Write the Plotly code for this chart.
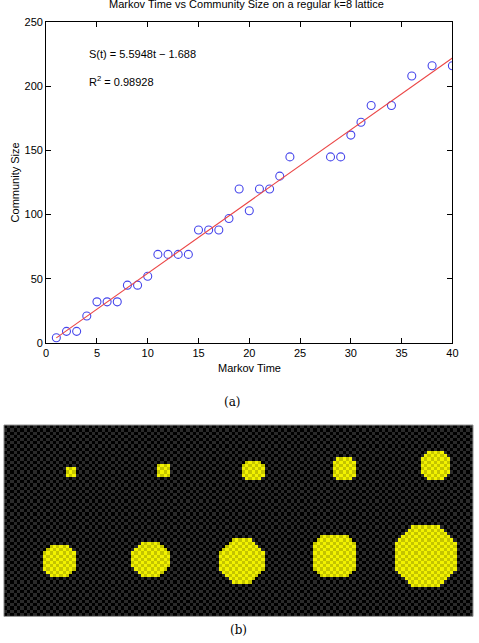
import numpy as np
import plotly.graph_objects as go

# ---- data (a): Markov time vs community size ----
markov_time = [1, 2, 3, 4, 5, 6, 7, 8, 9, 10, 11, 12, 13, 14, 15, 16, 17, 18, 19, 20,
               21, 22, 23, 24, 28, 29, 30, 31, 32, 34, 36, 38, 40]
community_size = [4, 9, 9, 21, 32, 32, 32, 45, 45, 52, 69, 69, 69, 69, 88, 88, 88, 97, 120, 103,
                  120, 120, 130, 145, 145, 145, 162, 172, 185, 185, 208, 216, 216]
fit_slope = 5.5948
fit_intercept = -1.688
fit_r2 = 0.98928
fit_t = [1, 40]

# ---- data (b): lattice image with communities ----
lattice_cols = 144
lattice_rows = 59
blob_cx = [20.5, 49, 76.5, 104.5, 132.5, 17, 45, 73, 101.5, 129.5]
blob_cy = [14.5, 14, 14, 13.5, 12.5, 42, 41.5, 42, 40.5, 40.5]
blob_diam = [3, 4, 6, 7.5, 8.5, 10, 11, 13, 13.5, 18.5]

fit_S = [fit_slope * t + fit_intercept for t in fit_t]

# build lattice image
jj, ii = np.meshgrid(np.arange(lattice_cols), np.arange(lattice_rows))
mask = np.zeros((lattice_rows, lattice_cols), dtype=bool)
for cx, cy, d in zip(blob_cx, blob_cy, blob_diam):
    r = d / 2.0
    dx = np.abs(jj + 0.5 - cx)
    dy = np.abs(ii + 0.5 - cy)
    mask |= (dx <= r + 1e-6) & (dy <= r + 1e-6) & (dx + dy <= r * 1.5 + 1e-6)
checker = (ii + jj) % 2
z = checker + 2 * mask.astype(int)

W, H = 479, 643

def px(x):
    return x / W

def py(y):
    return 1 - y / H

fig = go.Figure()

fig.add_trace(go.Scatter(
    x=markov_time, y=community_size, mode="markers",
    marker=dict(symbol="circle-open", size=8, color="rgb(70,70,235)", line=dict(width=1.1)),
    xaxis="x", yaxis="y", showlegend=False))
fig.add_trace(go.Scatter(
    x=fit_t, y=fit_S, mode="lines",
    line=dict(color="rgb(235,70,70)", width=1.1),
    xaxis="x", yaxis="y", showlegend=False))

fig.add_trace(go.Heatmap(
    z=z, zmin=0, zmax=3, showscale=False,
    colorscale=[[0, "#000000"], [0.1667, "#000000"], [0.1667, "#2a2a2a"], [0.5, "#2a2a2a"],
                [0.5, "#f2f200"], [0.8333, "#f2f200"], [0.8333, "#c4c400"], [1, "#c4c400"]],
    xaxis="x2", yaxis="y2", hoverinfo="skip"))

axis_font = dict(family="Liberation Sans, Arial, sans-serif", size=11, color="black")

fig.update_layout(
    width=W, height=H, margin=dict(l=0, r=0, t=0, b=0),
    paper_bgcolor="white", plot_bgcolor="white",
    xaxis=dict(domain=[px(44), px(458)], anchor="y", range=[0, 40], dtick=5, tick0=0,
               showline=True, linecolor="black", linewidth=1, mirror="ticks",
               ticks="inside", ticklen=5, tickcolor="black", showgrid=False, zeroline=False,
               tickfont=axis_font),
    yaxis=dict(domain=[py(343.3), py(16.5)], anchor="x", range=[0, 250], dtick=50, tick0=0,
               showline=True, linecolor="black", linewidth=1, mirror="ticks",
               ticks="inside", ticklen=5, tickcolor="black", showgrid=False, zeroline=False,
               tickfont=axis_font),
    xaxis2=dict(domain=[px(1), 1], anchor="y2", range=[-0.5, lattice_cols - 0.5],
                showticklabels=False, ticks="", showgrid=False, zeroline=False,
                showline=False),
    yaxis2=dict(domain=[py(622), py(427)], anchor="x2", range=[lattice_rows - 0.5, -0.5],
                showticklabels=False, ticks="", showgrid=False, zeroline=False,
                showline=False),
    shapes=[dict(type="rect", xref="paper", yref="paper", x0=px(1), x1=1, y0=py(622), y1=py(427),
                 line=dict(color="#909090", width=1), fillcolor="rgba(0,0,0,0)")],
)

ann_font = dict(family="Liberation Sans, Arial, sans-serif", size=11, color="black")
serif_font = dict(family="DejaVu Serif, Liberation Serif, serif", size=12, color="black")
fig.add_annotation(text="Markov Time vs Community Size on a regular k=8 lattice",
                   xref="paper", yref="paper", x=px(248), y=py(-2.5), xanchor="center",
                   yanchor="middle", showarrow=False, font=ann_font)
fig.add_annotation(text=f"S(t) = {fit_slope}t \u2212 {abs(fit_intercept)}", xref="x", yref="y",
                   x=4, y=225, xanchor="left", yanchor="middle", showarrow=False, font=ann_font)
fig.add_annotation(text=f"R<sup>2</sup> = {fit_r2}", xref="x", yref="y",
                   x=4, y=204, xanchor="left", yanchor="middle", showarrow=False, font=ann_font)
fig.add_annotation(text="Markov Time", xref="paper", yref="paper", x=px(251), y=py(369),
                   xanchor="center", yanchor="middle", showarrow=False, font=ann_font)
fig.add_annotation(text="Community Size", xref="paper", yref="paper", x=px(12), y=py(180),
                   xanchor="center", yanchor="middle", showarrow=False, textangle=-90,
                   font=ann_font)
fig.add_annotation(text="(a)", xref="paper", yref="paper", x=px(234), y=py(404),
                   xanchor="center", yanchor="middle", showarrow=False, font=serif_font)
fig.add_annotation(text="(b)", xref="paper", yref="paper", x=px(240), y=py(636),
                   xanchor="center", yanchor="middle", showarrow=False, font=serif_font)

fig.write_html("out.html")
